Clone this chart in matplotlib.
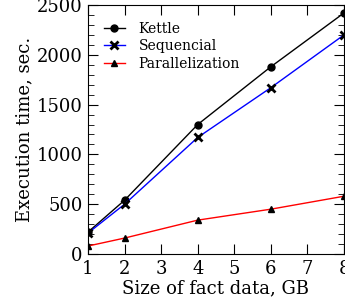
import matplotlib
matplotlib.use("Agg")
import matplotlib.pyplot as plt
from matplotlib.ticker import MultipleLocator

plt.rcParams['font.family'] = 'DejaVu Serif'

sizes = [1, 2, 4, 6, 8]
kettle = [220, 540, 1300, 1880, 2420]
sequencial = [210, 500, 1170, 1670, 2200]
parallel = [80, 160, 340, 450, 580]

fig = plt.figure(figsize=(3.45, 3.02), dpi=100)
ax = fig.add_axes([88 / 345, 48 / 302, 256 / 345, 249 / 302])

ax.plot(sizes, kettle, color='black', marker='o', markersize=5, lw=1, label='Kettle')
ax.plot(sizes, sequencial, color='blue', marker='x', markersize=6, mew=2, mec='black', lw=1, label='Sequencial')
ax.plot(sizes, parallel, color='red', marker='^', markersize=5, mfc='black', mec='black', lw=1, label='Parallelization')

ax.set_xlim(1, 8)
ax.set_ylim(0, 2500)
ax.xaxis.set_major_locator(MultipleLocator(1))
ax.yaxis.set_major_locator(MultipleLocator(500))
ax.yaxis.set_minor_locator(MultipleLocator(100))
ax.tick_params(direction='in', top=True, right=True, labelsize=13, length=7, pad=4)
ax.tick_params(which='minor', direction='in', right=True, length=4)

ax.set_xlabel('Size of fact data, GB', fontsize=13, labelpad=1)
ax.set_ylabel('Execution time, sec.', fontsize=13, labelpad=2)

ax.legend(loc='upper left', frameon=False, fontsize=10, handlelength=1.5,
          handletextpad=1.0, labelspacing=0.25, borderaxespad=0,
          bbox_to_anchor=(0.04, 0.955))

fig.savefig('out.png', dpi=100)
